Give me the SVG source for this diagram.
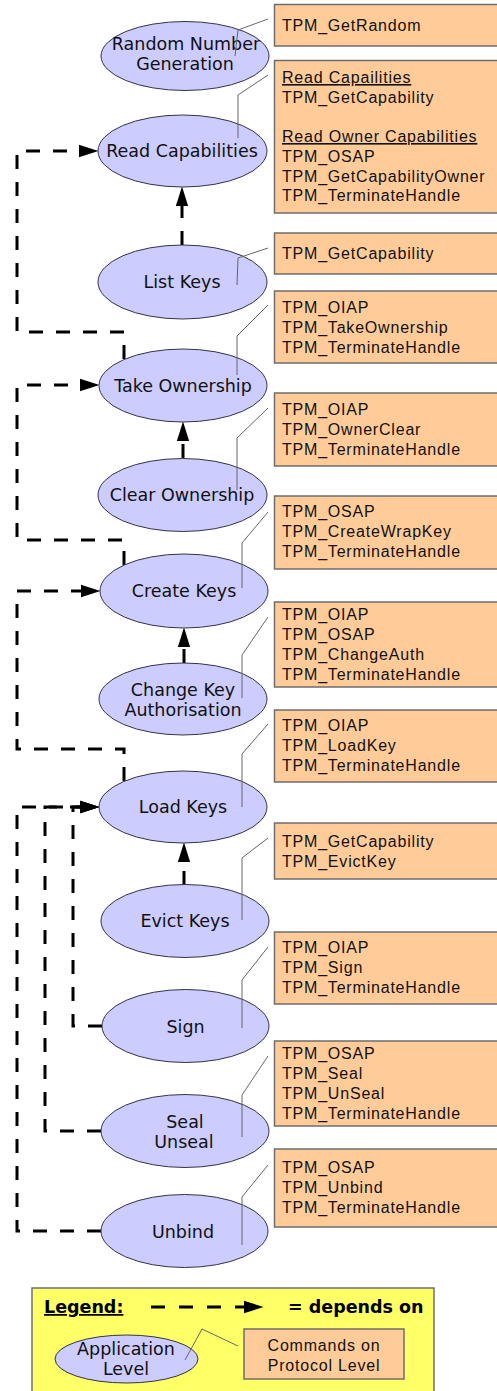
<svg xmlns="http://www.w3.org/2000/svg" width="497" height="1391" viewBox="0 0 497 1391">
<style>
.app ellipse{fill:#ccccff;stroke:#333344;stroke-width:1}
.app text{font-family:"DejaVu Sans",sans-serif;font-size:17.5px;fill:#111;text-anchor:middle}
.cmd rect{fill:#ffcc99;stroke:#6e6e6e;stroke-width:1.5}
.cmd text{font-family:"Liberation Sans",Arial,sans-serif;font-size:16px;letter-spacing:0.8px;fill:#111}
.lead{fill:none;stroke:#666;stroke-width:1}
.dep{fill:none;stroke:#000;stroke-width:3;stroke-dasharray:14,13;marker-end:url(#ah)}
.u{text-decoration:underline}
</style>
<defs>
<marker id="ah" markerUnits="userSpaceOnUse" markerWidth="20" markerHeight="14" viewBox="0 0 19 12" refX="9" refY="6" orient="auto">
<path d="M0,0 L19,6 L0,12 z" fill="#000"/>
</marker>
</defs>

<g id="connectors">
<path class="dep" d="M182,245 V197"/>
<path class="dep" d="M183,458 V432"/>
<path class="dep" d="M184,663 V638"/>
<path class="dep" d="M184,885 V853"/>
<path class="dep" d="M124,359 V332 H17 V151 H88"/>
<path class="dep" d="M124,565 V540 H17 V385 H89"/>
<path class="dep" d="M124,781 V749 H17 V591 H90"/>
<path class="dep" d="M102,1026 H73 V807 H89"/>
<path class="dep" d="M101,1131 H45 V807 H89"/>
<path class="dep" d="M101,1231 H17 V807 H89"/>
</g>

<g id="n-random" class="app">
<ellipse cx="185" cy="56" rx="84" ry="34.5"/>
<text x="186" y="50">Random Number</text>
<text x="185" y="70">Generation</text>
</g>
<g id="n-readcap" class="app">
<ellipse cx="182.5" cy="151" rx="84.5" ry="36"/>
<text x="182" y="157">Read Capabilities</text>
</g>
<g id="n-listkeys" class="app">
<ellipse cx="182.5" cy="282" rx="84.5" ry="37"/>
<text x="182" y="288">List Keys</text>
</g>
<g id="n-take" class="app">
<ellipse cx="183" cy="385.5" rx="84" ry="36.5"/>
<text x="183" y="392">Take Ownership</text>
</g>
<g id="n-clear" class="app">
<ellipse cx="182.5" cy="495" rx="84.5" ry="36.5"/>
<text x="182" y="501">Clear Ownership</text>
</g>
<g id="n-create" class="app">
<ellipse cx="184" cy="591" rx="84" ry="37"/>
<text x="184" y="597">Create Keys</text>
</g>
<g id="n-change" class="app">
<ellipse cx="183" cy="699" rx="84" ry="36"/>
<text x="183" y="696">Change Key</text>
<text x="183" y="716">Authorisation</text>
</g>
<g id="n-load" class="app">
<ellipse cx="183" cy="807" rx="84" ry="36"/>
<text x="183" y="813">Load Keys</text>
</g>
<g id="n-evict" class="app">
<ellipse cx="185" cy="921" rx="84" ry="36.5"/>
<text x="185" y="927">Evict Keys</text>
</g>
<g id="n-sign" class="app">
<ellipse cx="185.5" cy="1026" rx="83.5" ry="36.5"/>
<text x="185.5" y="1033">Sign</text>
</g>
<g id="n-seal" class="app">
<ellipse cx="185" cy="1131" rx="84" ry="36.5"/>
<text x="185" y="1128">Seal</text>
<text x="184" y="1148">Unseal</text>
</g>
<g id="n-unbind" class="app">
<ellipse cx="184.5" cy="1231" rx="83.5" ry="36.5"/>
<text x="183" y="1238">Unbind</text>
</g>

<g id="c-random" class="cmd">
<rect x="274.5" y="4.5" width="230" height="41.5"/>
<path class="lead" d="M268,19 L238,30 L235,56"/>
<text x="282" y="31">TPM_GetRandom</text>
</g>
<g id="c-readcap" class="cmd">
<rect x="274.5" y="60.5" width="230" height="152.5"/>
<path class="lead" d="M268,75 L238,95 L238,138"/>
<text x="282" y="83" class="u">Read Capailities</text>
<text x="282" y="103">TPM_GetCapability</text>
<text x="282" y="142" class="u">Read Owner Capabilities</text>
<text x="282" y="162">TPM_OSAP</text>
<text x="282" y="182">TPM_GetCapabilityOwner</text>
<text x="282" y="201">TPM_TerminateHandle</text>
</g>
<g id="c-listkeys" class="cmd">
<rect x="274.5" y="233" width="230" height="41"/>
<path class="lead" d="M268,248 L238,258 L237,285"/>
<text x="282" y="259">TPM_GetCapability</text>
</g>
<g id="c-take" class="cmd">
<rect x="274.5" y="291" width="230" height="72"/>
<path class="lead" d="M268,305 L237,336 L237,375"/>
<text x="282" y="313">TPM_OIAP</text>
<text x="282" y="333">TPM_TakeOwnership</text>
<text x="282" y="353">TPM_TerminateHandle</text>
</g>
<g id="c-clear" class="cmd">
<rect x="274.5" y="393" width="230" height="73"/>
<path class="lead" d="M268,408 L237,438 L237,490"/>
<text x="282" y="415">TPM_OIAP</text>
<text x="282" y="435">TPM_OwnerClear</text>
<text x="282" y="455">TPM_TerminateHandle</text>
</g>
<g id="c-create" class="cmd">
<rect x="274.5" y="496" width="230" height="73"/>
<path class="lead" d="M268,512 L242,543 L242,588"/>
<text x="282" y="517">TPM_OSAP</text>
<text x="282" y="537">TPM_CreateWrapKey</text>
<text x="282" y="557">TPM_TerminateHandle</text>
</g>
<g id="c-change" class="cmd">
<rect x="274.5" y="602" width="230" height="85"/>
<path class="lead" d="M268,617 L242,655 L242,698"/>
<text x="282" y="620">TPM_OIAP</text>
<text x="282" y="640">TPM_OSAP</text>
<text x="282" y="660">TPM_ChangeAuth</text>
<text x="282" y="680">TPM_TerminateHandle</text>
</g>
<g id="c-load" class="cmd">
<rect x="274.5" y="710" width="230" height="72"/>
<path class="lead" d="M268,724 L242,754 L242,807"/>
<text x="282" y="731">TPM_OIAP</text>
<text x="282" y="751">TPM_LoadKey</text>
<text x="282" y="771">TPM_TerminateHandle</text>
</g>
<g id="c-evict" class="cmd">
<rect x="274.5" y="823" width="230" height="56"/>
<path class="lead" d="M268,838 L242,858 L242,920"/>
<text x="282" y="847">TPM_GetCapability</text>
<text x="282" y="867">TPM_EvictKey</text>
</g>
<g id="c-sign" class="cmd">
<rect x="274.5" y="932" width="230" height="72"/>
<path class="lead" d="M268,947 L242,980 L242,1028"/>
<text x="282" y="953">TPM_OIAP</text>
<text x="282" y="973">TPM_Sign</text>
<text x="282" y="993">TPM_TerminateHandle</text>
</g>
<g id="c-seal" class="cmd">
<rect x="274.5" y="1041" width="230" height="85"/>
<path class="lead" d="M268,1056 L242,1095 L242,1137"/>
<text x="282" y="1059">TPM_OSAP</text>
<text x="282" y="1079">TPM_Seal</text>
<text x="282" y="1099">TPM_UnSeal</text>
<text x="282" y="1119">TPM_TerminateHandle</text>
</g>
<g id="c-unbind" class="cmd">
<rect x="274.5" y="1149" width="230" height="78"/>
<path class="lead" d="M268,1165 L242,1197 L242,1245"/>
<text x="282" y="1173">TPM_OSAP</text>
<text x="282" y="1193">TPM_Unbind</text>
<text x="282" y="1213">TPM_TerminateHandle</text>
</g>

<g id="legend">
<rect x="32" y="1288" width="402" height="120" fill="#ffff66" stroke="#6e6e6e" stroke-width="1.5"/>
<text x="44" y="1313" font-family="DejaVu Sans,sans-serif" font-weight="bold" font-size="17.5px" class="u" fill="#000">Legend:</text>
<path d="M151,1307 H236" fill="none" stroke="#000" stroke-width="3" stroke-dasharray="14,14"/>
<path d="M236,1307 H253" fill="none" stroke="#000" stroke-width="3" marker-end="url(#ah)"/>
<text x="288" y="1313" font-family="DejaVu Sans,sans-serif" font-weight="bold" font-size="17.5px" fill="#000">= depends on</text>
<g id="legend-app" class="app">
<ellipse cx="126.5" cy="1359" rx="71.5" ry="24"/>
<text x="126" y="1355">Application</text>
<text x="126" y="1375">Level</text>
</g>
<g id="legend-cmd" class="cmd">
<rect x="244" y="1329" width="160" height="50"/>
<text x="324" y="1351" text-anchor="middle">Commands on</text>
<text x="324" y="1371" text-anchor="middle">Protocol Level</text>
</g>
<path class="lead" d="M185,1360 L202,1329 L238,1346"/>
</g>
</svg>
